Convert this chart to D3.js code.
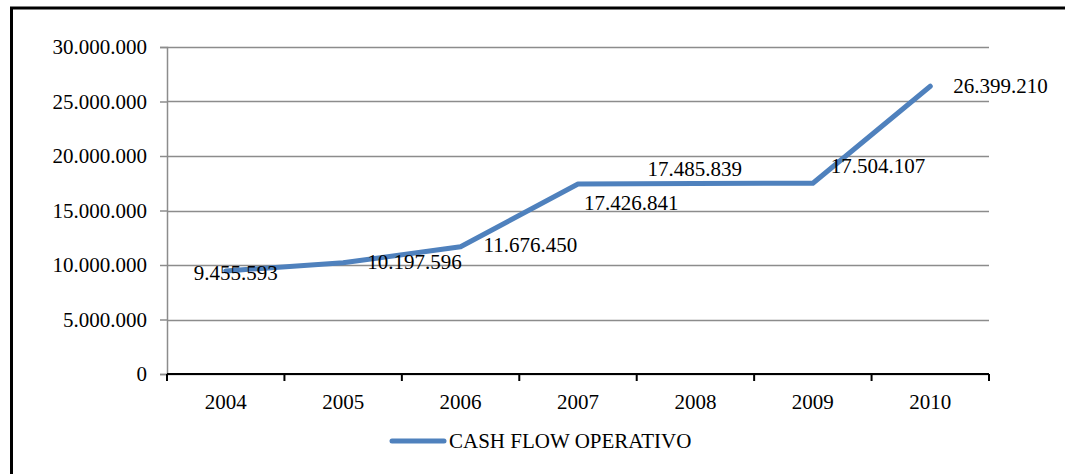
<!DOCTYPE html>
<html>
<head>
<meta charset="utf-8">
<script src="https://cdn.jsdelivr.net/npm/d3@7"></script>
<style>
  body { margin: 0; background: #fff; }
  svg text { font-family: "Liberation Serif", "Times New Roman", "DejaVu Serif", serif !important; fill: #000; }
</style>
</head>
<body>
<div id="chart"></div>
<script>
(function () {

  const years = ['2004', '2005', '2006', '2007', '2008', '2009', '2010']
  const cashFlow = [9455593, 10197596, 11676450, 17426841, 17485839, 17504107, 26399210]
  const yTicks = [0, 5000000, 10000000, 15000000, 20000000, 25000000, 30000000]
  const seriesName = 'CASH FLOW OPERATIVO'

  // where each data label sits relative to its point
  const labelDx = [-32, 24, 23, 6, -48, 18, 23]
  const labelDy = [9, 6, 5, 26, -7, -10, 7]

  const W = 1065
  const H = 474
  const margin = { top: 47, right: 76, bottom: 100, left: 167 }
  const width = W - margin.left - margin.right
  const height = H - margin.top - margin.bottom
  const fontSize = '21px'

  const fmt = n => String(n).replace(/\B(?=(\d{3})+(?!\d))/g, '.')

  const root = d3.select('#chart').append('svg')
      .attr('width', W)
      .attr('height', H)

  // outer frame
  root.append('rect')
    .attr('x', 11.5).attr('y', 8)
    .attr('width', W + 20).attr('height', H + 20)
    .attr('fill', 'none')
    .attr('stroke', '#000')
    .attr('stroke-width', 3)

  const svg = root.append('g')
      .attr('transform', 'translate(' + margin.left + ',' + margin.top + ')')

  const xScale = d3.scaleBand()
    .domain(years)
    .range([0, width])

  const yScale = d3.scaleLinear()
    .domain([0, 30000000])
    .range([height, 0])

  // gridlines
  svg.append('g')
    .selectAll('line')
    .data(yTicks)
    .join('line')
    .attr('x1', 0)
    .attr('x2', width)
    .attr('y1', d => Math.round(yScale(d)) + 0.5)
    .attr('y2', d => Math.round(yScale(d)) + 0.5)
    .attr('stroke', '#8c8c8c')
    .attr('stroke-width', 1.5)

  // y axis
  const yAxis = d3.axisLeft(yScale)
    .tickValues(yTicks)
    .tickFormat(fmt)
    .tickSizeOuter(0)
    .tickSize(7)
    .tickPadding(13)
  const yg = svg.append('g')
    .attr('class', 'axis y-axis')
    .call(yAxis)
  yg.attr('font-family', null).attr('font-size', null)
  yg.select('.domain').attr('stroke', '#8c8c8c').attr('stroke-width', 1.5)
  yg.selectAll('.tick line').attr('stroke', '#8c8c8c').attr('stroke-width', 1.5)
  yg.selectAll('text').style('font-size', fontSize)

  // x axis, ticks on the band edges
  const xg = svg.append('g')
    .attr('class', 'axis x-axis')
    .attr('transform', 'translate(0,' + height + ')')
  xg.append('line')
    .attr('x1', 0).attr('x2', width)
    .attr('y1', 0).attr('y2', 0)
    .attr('stroke', '#000')
    .attr('stroke-width', 2)
  const edges = years.map(d => xScale(d)).concat([width])
  xg.selectAll('line.tk')
    .data(edges)
    .join('line')
    .attr('class', 'tk')
    .attr('x1', d => d).attr('x2', d => d)
    .attr('y1', 0).attr('y2', 7)
    .attr('stroke', '#000')
    .attr('stroke-width', 2)
  xg.selectAll('text')
    .data(years)
    .join('text')
    .attr('x', d => xScale(d) + xScale.bandwidth() / 2)
    .attr('y', 35)
    .attr('text-anchor', 'middle')
    .style('font-size', fontSize)
    .text(d => d)

  // the line
  const line = d3.line()
    .x((d, i) => xScale(years[i]) + xScale.bandwidth() / 2)
    .y(d => yScale(d))

  svg.append('path')
    .datum(cashFlow)
    .attr('d', line)
    .attr('fill', 'none')
    .attr('stroke', '#4f81bd')
    .attr('stroke-width', 5)
    .attr('stroke-linecap', 'round')
    .attr('stroke-linejoin', 'round')

  // data labels
  svg.append('g')
    .selectAll('text')
    .data(cashFlow)
    .join('text')
    .attr('x', (d, i) => xScale(years[i]) + xScale.bandwidth() / 2 + labelDx[i])
    .attr('y', (d, i) => yScale(d) + labelDy[i])
    .style('font-size', fontSize)
    .text(d => fmt(d))

  // legend
  const legend = root.append('g')
    .attr('transform', 'translate(390,441)')
  legend.append('line')
    .attr('x1', 2).attr('x2', 54)
    .attr('y1', 0).attr('y2', 0)
    .attr('stroke', '#4f81bd')
    .attr('stroke-width', 5)
    .attr('stroke-linecap', 'round')
  legend.append('text')
    .attr('x', 59)
    .attr('y', 7)
    .style('font-size', fontSize)
    .text(seriesName)

})();
</script>
</body>
</html>
